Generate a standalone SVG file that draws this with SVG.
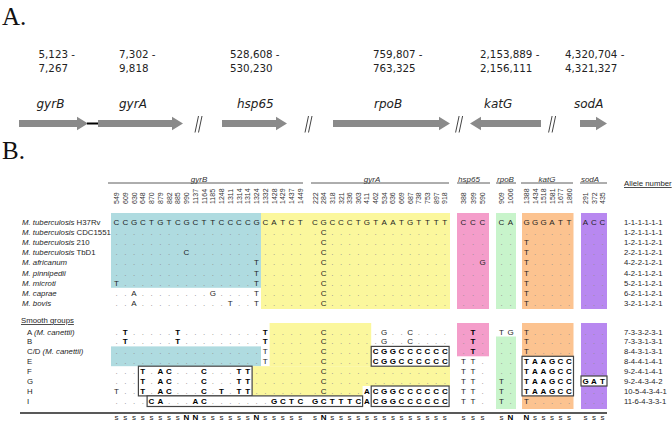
<svg xmlns="http://www.w3.org/2000/svg" width="672" height="421" viewBox="0 0 672 421">
<style>
.pl{font-family:"Liberation Serif","Times New Roman",serif;font-size:25px;fill:#111}
.co{font-family:"DejaVu Sans",Verdana,sans-serif;font-size:10.3px;fill:#222}
.gl{font-family:"DejaVu Sans",Verdana,sans-serif;font-size:12px;font-style:italic;fill:#222}
.arr{fill:#8a8a8a}
.brk{stroke:#444;stroke-width:1;fill:none}
.sq{font-family:"Liberation Sans",Arial,sans-serif;font-size:8px;fill:#1e1e1e;text-anchor:middle}
.d{fill:#8e8e8e}
.b{font-weight:bold;fill:#000}
.lb{font-family:"Liberation Sans",Arial,sans-serif;font-size:7.8px;fill:#1e1e1e}
.it{font-style:italic}
.al{font-family:"Liberation Sans",Arial,sans-serif;font-size:7.7px;fill:#1e1e1e}
.nm{font-family:"Liberation Sans",Arial,sans-serif;font-size:7px;fill:#333}
.hd{font-family:"Liberation Sans",Arial,sans-serif;font-size:8px;font-style:italic;fill:#333;text-anchor:middle}
.hl{stroke:#333;stroke-width:0.8}
.bx{fill:#fff;stroke:#444;stroke-width:1.2}
.blue{fill:#afdbe0}.yel{fill:#fbf79d}.pink{fill:#f49dca}.grn{fill:#c8f4cb}.org{fill:#fcc390}.pur{fill:#b888f0}
</style>

<text class="pl" x="2" y="25">A.</text>
<g id="panelA">
  <g id="gene-gyrB">
    <text class="co" x="38.5" y="58">5,123 -<tspan x="38.5" y="71.5">7,267</tspan></text>
    <text class="gl" x="36.5" y="108">gyrB</text>
    <polygon class="arr" points="19,120.1 77,120.1 77,116.7 88,123.5 77,130.3 77,126.9 19,126.9"/>
  </g>
  <g id="gene-gyrA">
    <text class="co" x="119" y="58">7,302 -<tspan x="119" y="71.5">9,818</tspan></text>
    <text class="gl" x="119" y="108">gyrA</text>
    <polygon class="arr" points="98,120.1 172,120.1 172,116.7 183,123.5 172,130.3 172,126.9 98,126.9"/>
  </g>
  <g id="gene-hsp65">
    <text class="co" x="230" y="58">528,608 -<tspan x="230" y="71.5">530,230</tspan></text>
    <text class="gl" x="237" y="108">hsp65</text>
    <polygon class="arr" points="222,120.1 276,120.1 276,116.7 287,123.5 276,130.3 276,126.9 222,126.9"/>
  </g>
  <g id="gene-rpoB">
    <text class="co" x="373" y="58">759,807 -<tspan x="373" y="71.5">763,325</tspan></text>
    <text class="gl" x="374" y="108">rpoB</text>
    <polygon class="arr" points="333,120.1 439,120.1 439,116.7 450,123.5 439,130.3 439,126.9 333,126.9"/>
  </g>
  <g id="gene-katG">
    <text class="co" x="480" y="58">2,153,889 -<tspan x="480" y="71.5">2,156,111</tspan></text>
    <text class="gl" x="484" y="108">katG</text>
    <polygon class="arr" points="541,120.1 481,120.1 481,116.7 470,123.5 481,130.3 481,126.9 541,126.9"/>
  </g>
  <g id="gene-sodA">
    <text class="co" x="565" y="58">4,320,704 -<tspan x="565" y="71.5">4,321,327</tspan></text>
    <text class="gl" x="574" y="108">sodA</text>
    <polygon class="arr" points="580,120.1 596,120.1 596,116.7 607,123.5 596,130.3 596,126.9 580,126.9"/>
  </g>
  <g id="connectors">
    <line x1="87" y1="123.5" x2="98" y2="123.5" stroke="#000" stroke-width="2"/>
    <path class="brk" d="M195,132.5 L198.5,116 M198.5,132.5 L202,116"/>
    <path class="brk" d="M305,132.5 L308.5,116 M308.5,132.5 L312,116"/>
    <path class="brk" d="M455.6,132.5 L459.1,116 M459.1,132.5 L462.6,116"/>
    <path class="brk" d="M548.6,132.5 L552.1,116 M552.1,132.5 L555.6,116"/>
  </g>
</g>

<text class="pl" x="2" y="159">B.</text>
<g id="panelB">
  <g id="backgrounds">
    <rect class="blue" x="111" y="213" width="150" height="74.8"/>
    <rect class="yel" x="261" y="213" width="189" height="96"/>
    <rect class="pink" x="457" y="213" width="32" height="96"/>
    <rect class="grn" x="496" y="213" width="20" height="96"/>
    <rect class="org" x="522" y="213" width="51.5" height="96"/>
    <rect class="pur" x="581" y="213" width="26" height="96"/>

    <rect class="blue" x="111" y="346.4" width="150" height="19.8"/>
    <rect class="yel" x="269.6" y="323" width="101.6" height="43.2"/>
    <rect class="yel" x="252.1" y="366.2" width="197.9" height="19.8"/>
    <rect class="yel" x="252.1" y="386" width="110.5" height="9.9"/>
    <rect class="pink" x="457" y="323" width="32" height="33.3"/>
    <rect class="grn" x="496" y="336.5" width="20" height="72.5"/>
    <rect class="org" x="522" y="323" width="51.5" height="86"/>
    <rect class="pur" x="581" y="323" width="26" height="86"/>
  </g>
  <g id="boxes">
    <rect class="bx" x="138.4" y="366.2" width="113.7" height="29.7"/>
    <rect class="bx" x="147.1" y="395.9" width="215.5" height="10.6"/>
    <rect class="bx" x="371.2" y="346.4" width="77.9" height="19.8"/>
    <rect class="bx" x="371.2" y="386" width="77.9" height="20.5"/>
    <rect class="bx" x="522" y="356.3" width="51.5" height="39.6"/>
    <rect class="bx" x="581" y="376" width="26" height="10"/>
  </g>

  <g id="header">
    <line class="hl" x1="108" y1="183" x2="303" y2="183"/>
    <line class="hl" x1="311" y1="183" x2="449" y2="183"/>
    <line class="hl" x1="457" y1="183" x2="490" y2="183"/>
    <line class="hl" x1="496" y1="183" x2="516" y2="183"/>
    <line class="hl" x1="521" y1="183" x2="573" y2="183"/>
    <line class="hl" x1="580" y1="183" x2="607" y2="183"/>
    <text class="hd" x="199" y="181.5">gyrB</text>
    <text class="hd" x="372" y="181.5">gyrA</text>
    <text class="hd" x="469" y="181.5">hsp65</text>
    <text class="hd" x="505.5" y="181.5">rpoB</text>
    <text class="hd" x="547" y="181.5">katG</text>
    <text class="hd" x="590" y="181.5">sodA</text>
    <text class="lb" x="624" y="186" style="text-decoration:underline">Allele number</text>
    <g id="positions">
      <text class="nm" transform="translate(119 204) rotate(-90)">549</text>
      <text class="nm" transform="translate(127.8 204) rotate(-90)">609</text>
      <text class="nm" transform="translate(136.5 204) rotate(-90)">630</text>
      <text class="nm" transform="translate(145.3 204) rotate(-90)">648</text>
      <text class="nm" transform="translate(154 204) rotate(-90)">870</text>
      <text class="nm" transform="translate(162.8 204) rotate(-90)">879</text>
      <text class="nm" transform="translate(171.5 204) rotate(-90)">882</text>
      <text class="nm" transform="translate(180.3 204) rotate(-90)">885</text>
      <text class="nm" transform="translate(189 204) rotate(-90)">990</text>
      <text class="nm" transform="translate(197.8 204) rotate(-90)">1137</text>
      <text class="nm" transform="translate(206.5 204) rotate(-90)">1164</text>
      <text class="nm" transform="translate(215.3 204) rotate(-90)">1185</text>
      <text class="nm" transform="translate(224 204) rotate(-90)">1248</text>
      <text class="nm" transform="translate(232.8 204) rotate(-90)">1311</text>
      <text class="nm" transform="translate(241.5 204) rotate(-90)">1314</text>
      <text class="nm" transform="translate(250.3 204) rotate(-90)">1314</text>
      <text class="nm" transform="translate(259 204) rotate(-90)">1324</text>
      <text class="nm" transform="translate(267.8 204) rotate(-90)">1332</text>
      <text class="nm" transform="translate(276.5 204) rotate(-90)">1428</text>
      <text class="nm" transform="translate(285.3 204) rotate(-90)">1429</text>
      <text class="nm" transform="translate(294 204) rotate(-90)">1437</text>
      <text class="nm" transform="translate(302.8 204) rotate(-90)">1449</text>
      <text class="nm" transform="translate(317.5 204) rotate(-90)">222</text>
      <text class="nm" transform="translate(326.2 204) rotate(-90)">284</text>
      <text class="nm" transform="translate(334.8 204) rotate(-90)">318</text>
      <text class="nm" transform="translate(343.5 204) rotate(-90)">321</text>
      <text class="nm" transform="translate(352.1 204) rotate(-90)">336</text>
      <text class="nm" transform="translate(360.8 204) rotate(-90)">363</text>
      <text class="nm" transform="translate(369.4 204) rotate(-90)">411</text>
      <text class="nm" transform="translate(378.1 204) rotate(-90)">462</text>
      <text class="nm" transform="translate(386.7 204) rotate(-90)">534</text>
      <text class="nm" transform="translate(395.4 204) rotate(-90)">636</text>
      <text class="nm" transform="translate(404 204) rotate(-90)">669</text>
      <text class="nm" transform="translate(412.7 204) rotate(-90)">687</text>
      <text class="nm" transform="translate(421.3 204) rotate(-90)">738</text>
      <text class="nm" transform="translate(430 204) rotate(-90)">753</text>
      <text class="nm" transform="translate(438.6 204) rotate(-90)">897</text>
      <text class="nm" transform="translate(447.3 204) rotate(-90)">918</text>
      <text class="nm" transform="translate(466 204) rotate(-90)">388</text>
      <text class="nm" transform="translate(475.5 204) rotate(-90)">399</text>
      <text class="nm" transform="translate(485 204) rotate(-90)">590</text>
      <text class="nm" transform="translate(504 204) rotate(-90)">909</text>
      <text class="nm" transform="translate(513 204) rotate(-90)">1006</text>
      <text class="nm" transform="translate(529 204) rotate(-90)">1388</text>
      <text class="nm" transform="translate(537.5 204) rotate(-90)">1434</text>
      <text class="nm" transform="translate(546 204) rotate(-90)">1518</text>
      <text class="nm" transform="translate(554.5 204) rotate(-90)">1581</text>
      <text class="nm" transform="translate(563 204) rotate(-90)">1677</text>
      <text class="nm" transform="translate(571.5 204) rotate(-90)">1860</text>
      <text class="nm" transform="translate(588 204) rotate(-90)">291</text>
      <text class="nm" transform="translate(596.5 204) rotate(-90)">372</text>
      <text class="nm" transform="translate(605 204) rotate(-90)">435</text>
    </g>
  </g>

  <g id="labels">
    <text class="lb" x="22" y="224.5"><tspan class="it">M. tuberculosis</tspan> H37Rv</text>
    <text class="lb" x="22" y="234.7"><tspan class="it">M. tuberculosis</tspan> CDC1551</text>
    <text class="lb" x="22" y="244.9"><tspan class="it">M. tuberculosis</tspan> 210</text>
    <text class="lb" x="22" y="255.1"><tspan class="it">M. tuberculosis</tspan> TbD1</text>
    <text class="lb it" x="22" y="265.3">M. africanum</text>
    <text class="lb it" x="22" y="275.5">M. pinnipedii</text>
    <text class="lb it" x="22" y="285.7">M. microti</text>
    <text class="lb it" x="22" y="295.9">M. caprae</text>
    <text class="lb it" x="22" y="306.1">M. bovis</text>
    <text class="lb" x="21" y="323" style="text-decoration:underline">Smooth groups</text>
    <text class="lb" x="27" y="334.5">A <tspan class="it">(M. canettii)</tspan></text>
    <text class="lb" x="27" y="344.4">B</text>
    <text class="lb" x="27" y="354.3">C/D <tspan class="it">(M. canettii)</tspan></text>
    <text class="lb" x="27" y="364.2">E</text>
    <text class="lb" x="27" y="374.1">F</text>
    <text class="lb" x="27" y="384">G</text>
    <text class="lb" x="27" y="393.9">H</text>
    <text class="lb" x="27" y="403.8">I</text>
  </g>

  <g id="sequences">
    <text class="sq" y="224.5" x="116.5 125.3 134 142.8 151.5 160.3 169 177.8 186.5 195.3 204 212.8 221.5 230.3 239 247.8 256.5 265.3 274 282.8 291.5 300.3 315 323.7 332.3 341 349.6 358.3 366.9 375.6 384.2 392.9 401.5 410.2 418.8 427.5 436.1 444.8 463.5 473 482.5 501.5 510.5 526.5 535 543.5 552 560.5 569 585.5 594 602.5">CCGCTGTCGCTTCCCCGCATCTCGCCCTGTAATGTTTTCCCCAGGGATTACC</text>
    <text class="sq" y="234.7" x="116.5 125.3 134 142.8 151.5 160.3 169 177.8 186.5 195.3 204 212.8 221.5 230.3 239 247.8 256.5 265.3 274 282.8 291.5 300.3 315 323.7 332.3 341 349.6 358.3 366.9 375.6 384.2 392.9 401.5 410.2 418.8 427.5 436.1 444.8 463.5 473 482.5 501.5 510.5 526.5 535 543.5 552 560.5 569 585.5 594 602.5"><tspan class="d">.......................</tspan>C<tspan class="d">............................</tspan></text>
    <text class="sq" y="244.9" x="116.5 125.3 134 142.8 151.5 160.3 169 177.8 186.5 195.3 204 212.8 221.5 230.3 239 247.8 256.5 265.3 274 282.8 291.5 300.3 315 323.7 332.3 341 349.6 358.3 366.9 375.6 384.2 392.9 401.5 410.2 418.8 427.5 436.1 444.8 463.5 473 482.5 501.5 510.5 526.5 535 543.5 552 560.5 569 585.5 594 602.5"><tspan class="d">.......................</tspan>C<tspan class="d">...................</tspan>T<tspan class="d">........</tspan></text>
    <text class="sq" y="255.1" x="116.5 125.3 134 142.8 151.5 160.3 169 177.8 186.5 195.3 204 212.8 221.5 230.3 239 247.8 256.5 265.3 274 282.8 291.5 300.3 315 323.7 332.3 341 349.6 358.3 366.9 375.6 384.2 392.9 401.5 410.2 418.8 427.5 436.1 444.8 463.5 473 482.5 501.5 510.5 526.5 535 543.5 552 560.5 569 585.5 594 602.5"><tspan class="d">........</tspan>C<tspan class="d">..............</tspan>C<tspan class="d">...................</tspan>T<tspan class="d">........</tspan></text>
    <text class="sq" y="265.3" x="116.5 125.3 134 142.8 151.5 160.3 169 177.8 186.5 195.3 204 212.8 221.5 230.3 239 247.8 256.5 265.3 274 282.8 291.5 300.3 315 323.7 332.3 341 349.6 358.3 366.9 375.6 384.2 392.9 401.5 410.2 418.8 427.5 436.1 444.8 463.5 473 482.5 501.5 510.5 526.5 535 543.5 552 560.5 569 585.5 594 602.5"><tspan class="d">................</tspan>T<tspan class="d">......</tspan>C<tspan class="d">................</tspan>G<tspan class="d">..</tspan>T<tspan class="d">........</tspan></text>
    <text class="sq" y="275.5" x="116.5 125.3 134 142.8 151.5 160.3 169 177.8 186.5 195.3 204 212.8 221.5 230.3 239 247.8 256.5 265.3 274 282.8 291.5 300.3 315 323.7 332.3 341 349.6 358.3 366.9 375.6 384.2 392.9 401.5 410.2 418.8 427.5 436.1 444.8 463.5 473 482.5 501.5 510.5 526.5 535 543.5 552 560.5 569 585.5 594 602.5"><tspan class="d">................</tspan>T<tspan class="d">......</tspan>C<tspan class="d">...................</tspan>T<tspan class="d">........</tspan></text>
    <text class="sq" y="285.7" x="116.5 125.3 134 142.8 151.5 160.3 169 177.8 186.5 195.3 204 212.8 221.5 230.3 239 247.8 256.5 265.3 274 282.8 291.5 300.3 315 323.7 332.3 341 349.6 358.3 366.9 375.6 384.2 392.9 401.5 410.2 418.8 427.5 436.1 444.8 463.5 473 482.5 501.5 510.5 526.5 535 543.5 552 560.5 569 585.5 594 602.5">T<tspan class="d">...............</tspan>T<tspan class="d">......</tspan>C<tspan class="d">...................</tspan>T<tspan class="d">........</tspan></text>
    <text class="sq" y="295.9" x="116.5 125.3 134 142.8 151.5 160.3 169 177.8 186.5 195.3 204 212.8 221.5 230.3 239 247.8 256.5 265.3 274 282.8 291.5 300.3 315 323.7 332.3 341 349.6 358.3 366.9 375.6 384.2 392.9 401.5 410.2 418.8 427.5 436.1 444.8 463.5 473 482.5 501.5 510.5 526.5 535 543.5 552 560.5 569 585.5 594 602.5"><tspan class="d">..</tspan>A<tspan class="d">........</tspan>G<tspan class="d">....</tspan>T<tspan class="d">......</tspan>C<tspan class="d">...................</tspan>T<tspan class="d">........</tspan></text>
    <text class="sq" y="306.1" x="116.5 125.3 134 142.8 151.5 160.3 169 177.8 186.5 195.3 204 212.8 221.5 230.3 239 247.8 256.5 265.3 274 282.8 291.5 300.3 315 323.7 332.3 341 349.6 358.3 366.9 375.6 384.2 392.9 401.5 410.2 418.8 427.5 436.1 444.8 463.5 473 482.5 501.5 510.5 526.5 535 543.5 552 560.5 569 585.5 594 602.5"><tspan class="d">..</tspan>A<tspan class="d">..........</tspan>T<tspan class="d">..</tspan>T<tspan class="d">......</tspan>C<tspan class="d">...................</tspan>T<tspan class="d">........</tspan></text>

    <text class="sq" y="334.5" x="116.5 125.3 134 142.8 151.5 160.3 169 177.8 186.5 195.3 204 212.8 221.5 230.3 239 247.8 256.5 265.3 274 282.8 291.5 300.3 315 323.7 332.3 341 349.6 358.3 366.9 375.6 384.2 392.9 401.5 410.2 418.8 427.5 436.1 444.8 463.5 473 482.5 501.5 510.5 526.5 535 543.5 552 560.5 569 585.5 594 602.5"><tspan class="d">.</tspan><tspan class="b">T</tspan><tspan class="d">.....</tspan><tspan class="b">T</tspan><tspan class="d">.........</tspan><tspan class="b">T</tspan><tspan class="d">.....</tspan>C<tspan class="d">......</tspan>G<tspan class="d">..</tspan>C<tspan class="d">.....</tspan><tspan class="b">T</tspan><tspan class="d">.</tspan>TGT<tspan class="d">........</tspan></text>
    <text class="sq" y="344.4" x="116.5 125.3 134 142.8 151.5 160.3 169 177.8 186.5 195.3 204 212.8 221.5 230.3 239 247.8 256.5 265.3 274 282.8 291.5 300.3 315 323.7 332.3 341 349.6 358.3 366.9 375.6 384.2 392.9 401.5 410.2 418.8 427.5 436.1 444.8 463.5 473 482.5 501.5 510.5 526.5 535 543.5 552 560.5 569 585.5 594 602.5"><tspan class="d">.</tspan><tspan class="b">T</tspan><tspan class="d">.....</tspan><tspan class="b">T</tspan><tspan class="d">.........</tspan><tspan class="b">T</tspan><tspan class="d">.....</tspan>C<tspan class="d">......</tspan>G<tspan class="d">..</tspan>C<tspan class="d">.....</tspan><tspan class="b">T</tspan><tspan class="d">...</tspan>T<tspan class="d">........</tspan></text>
    <text class="sq" y="354.3" x="116.5 125.3 134 142.8 151.5 160.3 169 177.8 186.5 195.3 204 212.8 221.5 230.3 239 247.8 256.5 265.3 274 282.8 291.5 300.3 315 323.7 332.3 341 349.6 358.3 366.9 375.6 384.2 392.9 401.5 410.2 418.8 427.5 436.1 444.8 463.5 473 482.5 501.5 510.5 526.5 535 543.5 552 560.5 569 585.5 594 602.5"><tspan class="d">.................</tspan>T<tspan class="d">.....</tspan>C<tspan class="d">.....</tspan><tspan class="b">CGGCCCCCC</tspan><tspan class="d">.</tspan><tspan class="b">T</tspan><tspan class="d">...</tspan>T<tspan class="d">........</tspan></text>
    <text class="sq" y="364.2" x="116.5 125.3 134 142.8 151.5 160.3 169 177.8 186.5 195.3 204 212.8 221.5 230.3 239 247.8 256.5 265.3 274 282.8 291.5 300.3 315 323.7 332.3 341 349.6 358.3 366.9 375.6 384.2 392.9 401.5 410.2 418.8 427.5 436.1 444.8 463.5 473 482.5 501.5 510.5 526.5 535 543.5 552 560.5 569 585.5 594 602.5"><tspan class="d">.................</tspan>T<tspan class="d">.....</tspan>C<tspan class="d">.....</tspan><tspan class="b">CGGCCCCCC</tspan>TT<tspan class="d">...</tspan><tspan class="b">TAAGCC</tspan><tspan class="d">...</tspan></text>
    <text class="sq" y="374.1" x="116.5 125.3 134 142.8 151.5 160.3 169 177.8 186.5 195.3 204 212.8 221.5 230.3 239 247.8 256.5 265.3 274 282.8 291.5 300.3 315 323.7 332.3 341 349.6 358.3 366.9 375.6 384.2 392.9 401.5 410.2 418.8 427.5 436.1 444.8 463.5 473 482.5 501.5 510.5 526.5 535 543.5 552 560.5 569 585.5 594 602.5"><tspan class="d">...</tspan><tspan class="b">T</tspan><tspan class="d">.</tspan><tspan class="b">AC</tspan><tspan class="d">...</tspan><tspan class="b">C</tspan><tspan class="d">...</tspan><tspan class="b">TT</tspan><tspan class="d">.......</tspan>C<tspan class="d">..............</tspan>TT<tspan class="d">...</tspan><tspan class="b">TAAGCC</tspan><tspan class="d">...</tspan></text>
    <text class="sq" y="384" x="116.5 125.3 134 142.8 151.5 160.3 169 177.8 186.5 195.3 204 212.8 221.5 230.3 239 247.8 256.5 265.3 274 282.8 291.5 300.3 315 323.7 332.3 341 349.6 358.3 366.9 375.6 384.2 392.9 401.5 410.2 418.8 427.5 436.1 444.8 463.5 473 482.5 501.5 510.5 526.5 535 543.5 552 560.5 569 585.5 594 602.5"><tspan class="d">...</tspan><tspan class="b">T</tspan><tspan class="d">.</tspan><tspan class="b">AC</tspan><tspan class="d">...</tspan><tspan class="b">C</tspan><tspan class="d">...</tspan><tspan class="b">TT</tspan><tspan class="d">.......</tspan>C<tspan class="d">..............</tspan>TT<tspan class="d">.</tspan>T<tspan class="d">.</tspan><tspan class="b">TAAGCCGAT</tspan></text>
    <text class="sq" y="393.9" x="116.5 125.3 134 142.8 151.5 160.3 169 177.8 186.5 195.3 204 212.8 221.5 230.3 239 247.8 256.5 265.3 274 282.8 291.5 300.3 315 323.7 332.3 341 349.6 358.3 366.9 375.6 384.2 392.9 401.5 410.2 418.8 427.5 436.1 444.8 463.5 473 482.5 501.5 510.5 526.5 535 543.5 552 560.5 569 585.5 594 602.5">T<tspan class="d">..</tspan><tspan class="b">T</tspan><tspan class="d">.</tspan><tspan class="b">AC</tspan><tspan class="d">...</tspan><tspan class="b">C</tspan><tspan class="d">.</tspan><tspan class="b">T</tspan><tspan class="d">.</tspan><tspan class="b">TT</tspan><tspan class="d">.......</tspan>C<tspan class="d">....</tspan><tspan class="b">ACGGCCCCCC</tspan>TT<tspan class="d">.</tspan>T<tspan class="d">.</tspan><tspan class="b">TAAGCC</tspan><tspan class="d">...</tspan></text>
    <text class="sq" y="403.8" x="116.5 125.3 134 142.8 151.5 160.3 169 177.8 186.5 195.3 204 212.8 221.5 230.3 239 247.8 256.5 265.3 274 282.8 291.5 300.3 315 323.7 332.3 341 349.6 358.3 366.9 375.6 384.2 392.9 401.5 410.2 418.8 427.5 436.1 444.8 463.5 473 482.5 501.5 510.5 526.5 535 543.5 552 560.5 569 585.5 594 602.5"><tspan class="d">....</tspan><tspan class="b">CA</tspan><tspan class="d">...</tspan><tspan class="b">AC</tspan><tspan class="d">.......</tspan><tspan class="b">GCTCGCTTTCACGGCCCCCC</tspan>TT<tspan class="d">.</tspan>T<tspan class="d">.</tspan>T<tspan class="d">........</tspan></text>
  </g>

  <g id="alleles">
    <text class="al" x="624" y="224.5">1-1-1-1-1-1</text>
    <text class="al" x="624" y="234.7">1-2-1-1-1-1</text>
    <text class="al" x="624" y="244.9">1-2-1-1-2-1</text>
    <text class="al" x="624" y="255.1">2-2-1-1-2-1</text>
    <text class="al" x="624" y="265.3">4-2-2-1-2-1</text>
    <text class="al" x="624" y="275.5">4-2-1-1-2-1</text>
    <text class="al" x="624" y="285.7">5-2-1-1-2-1</text>
    <text class="al" x="624" y="295.9">6-2-1-1-2-1</text>
    <text class="al" x="624" y="306.1">3-2-1-1-2-1</text>
    <text class="al" x="624" y="334.5">7-3-3-2-3-1</text>
    <text class="al" x="624" y="344.4">7-3-3-1-3-1</text>
    <text class="al" x="624" y="354.3">8-4-3-1-3-1</text>
    <text class="al" x="624" y="364.2">8-4-4-1-4-1</text>
    <text class="al" x="624" y="374.1">9-2-4-1-4-1</text>
    <text class="al" x="624" y="384">9-2-4-3-4-2</text>
    <text class="al" x="624" y="393.9">10-5-4-3-4-1</text>
    <text class="al" x="624" y="403.8">11-6-4-3-3-1</text>
  </g>

  <g id="footer">
    <line x1="20" y1="413" x2="607" y2="413" stroke="#222" stroke-width="1.5"/>
    <text class="sq" y="420" x="116.5 125.3 134 142.8 151.5 160.3 169 177.8 186.5 195.3 204 212.8 221.5 230.3 239 247.8 256.5 265.3 274 282.8 291.5 300.3 315 323.7 332.3 341 349.6 358.3 366.9 375.6 384.2 392.9 401.5 410.2 418.8 427.5 436.1 444.8 463.5 473 482.5 501.5 510.5 526.5 535 543.5 552 560.5 569 585.5 594 602.5">ssssssss<tspan class="b">NN</tspan>ssssss<tspan class="b">N</tspan>ssssss<tspan class="b">N</tspan>ssssssssssssssssss<tspan class="b">NN</tspan>ssssssss</text>
  </g>
</g>
</svg>
